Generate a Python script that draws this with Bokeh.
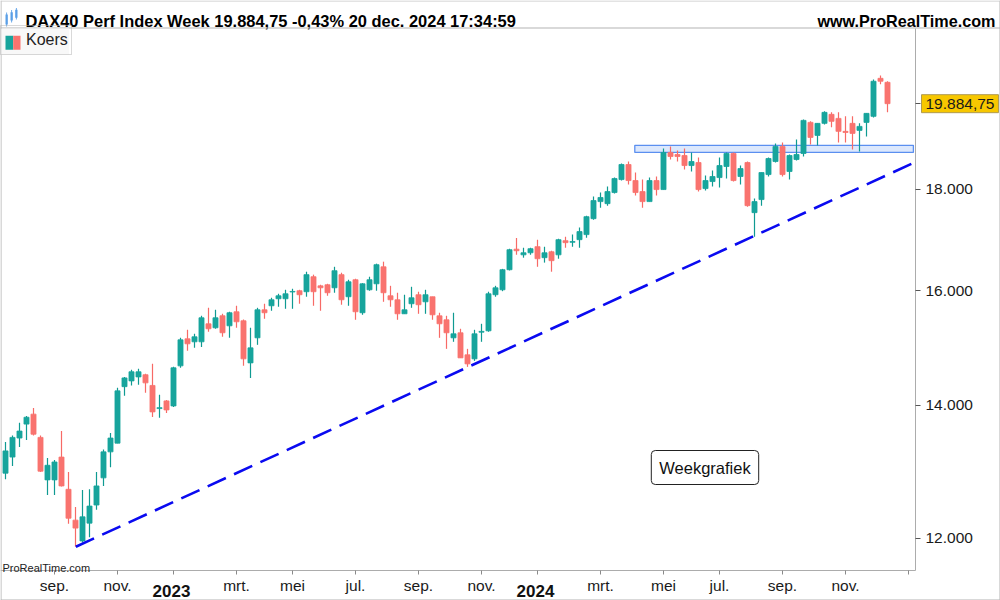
import math
import pandas as pd
from bokeh.plotting import figure
from bokeh.models import (Range1d, FixedTicker, Label, BoxAnnotation, Legend,
                          LegendItem, ColumnDataSource, LogAxis, LinearAxis, Grid)
from bokeh.embed import file_html
from bokeh.resources import INLINE

# ---------------- data (weekly DAX40 candles, week starting Monday) ----------------
first_week = "2022-07-18"

opens = [
    12940, 13185, 13480, 13700, 13860, 13490, 12840, 12840, 13185, 12700,
    12253, 11960, 12210, 12470, 12870, 13265, 13400, 14310, 14406, 14473,
    14510, 14330, 13950, 14075, 13993, 14660, 15129, 15076, 15076, 15395,
    15324, 15540, 15359, 15612, 15449, 14711, 15146, 15648, 15721, 15850,
    15850, 15975, 15998, 15980, 16261, 16090, 16110, 16053, 16300, 15887,
    16204, 15594, 16016, 16128, 16450, 15905, 15831, 15575, 15758, 15924,
    15794, 15887, 15539, 15467, 15146, 15235, 14850, 14780, 15245, 15270,
    15924, 16016, 16394, 16790, 16680, 16720, 16840, 16625, 16740, 16680,
    16957, 16925, 16977, 17077, 17397, 17745, 17703, 17933, 18206, 18527,
    18185, 17953, 17745, 18185, 17995, 18788, 18744, 18722, 18505, 18570,
    18016, 18164, 18248, 18484, 18766, 18270, 18570, 17519, 17787, 18312,
    18592, 18920, 18377, 18635, 18766, 19457, 19165, 19435, 19640, 19548,
    19255, 19435, 19277, 19457, 19594, 20480, 20385]

highs = [
    13420, 13520, 13720, 13830, 13960, 13520, 13170, 13140, 13590, 12960,
    12440, 12690, 12700, 12960, 13300, 13560, 14290, 14473, 14592, 14610,
    14525, 14695, 14175, 14090, 14645, 15146, 15288, 15217, 15540, 15684,
    15648, 15575, 15612, 15721, 15470, 15324, 15684, 15758, 15868, 15942,
    16016, 16035, 16016, 16356, 16300, 16110, 16128, 16450, 16337, 16204,
    16223, 16140, 16261, 16510, 16548, 16090, 15961, 15924, 16072, 15980,
    16016, 15887, 15594, 15539, 15594, 15306, 14953, 15288, 15395, 15980,
    16090, 16410, 16800, 17010, 16820, 16820, 16977, 16840, 16760, 16997,
    17037, 17077, 17217, 17457, 17850, 17933, 18058, 18248, 18549, 18592,
    18355, 18206, 18248, 18270, 18875, 18920, 18832, 18875, 18788, 18678,
    18290, 18398, 18678, 18788, 18788, 18505, 18592, 17808, 18355, 18678,
    18987, 19010, 18744, 19075, 19525, 19480, 19435, 19708, 19685, 19685,
    19594, 19594, 19435, 19662, 20450, 20550, 20410]

lows = [
    12850, 13050, 13340, 13450, 13520, 12960, 12615, 12615, 12740, 12200,
    11880, 11940, 12010, 12400, 12750, 13030, 13400, 14160, 14330, 14340,
    14210, 13815, 13800, 13880, 13977, 14627, 14919, 14970, 14987, 15253,
    15306, 15164, 15146, 15324, 14660, 14456, 15023, 15485, 15630, 15703,
    15666, 15666, 15758, 15887, 15721, 15630, 15905, 15961, 15740, 15721,
    15467, 15557, 15998, 15998, 15794, 15703, 15467, 15575, 15684, 15575,
    15575, 15467, 15146, 14953, 15076, 14797, 14643, 14745, 15076, 15253,
    15887, 15990, 16380, 16680, 16625, 16680, 16450, 16530, 16356, 16605,
    16820, 16840, 16820, 17017, 17377, 17620, 17662, 17912, 18185, 18100,
    17870, 17620, 17745, 17870, 17995, 18635, 18592, 18419, 18377, 17953,
    17975, 18058, 18037, 18227, 18164, 18100, 17640, 17037, 17662, 18270,
    18570, 18270, 18206, 18614, 18700, 18964, 18943, 19412, 19345, 19010,
    19010, 18853, 18810, 19142, 19570, 20340, 19685]

closes = [
    13280, 13490, 13590, 13810, 13540, 12970, 13060, 13110, 12750, 12280,
    12140, 12300, 12455, 12750, 13265, 13480, 14240, 14456, 14560, 14560,
    14373, 13896, 13965, 13928, 14627, 15111, 15041, 15164, 15503, 15306,
    15503, 15235, 15594, 15431, 14780, 14970, 15648, 15594, 15831, 15905,
    15942, 15985, 15924, 16300, 15980, 16053, 15961, 16375, 15831, 16166,
    15612, 16128, 16204, 16490, 15961, 15831, 15575, 15648, 15868, 15740,
    15924, 15557, 15395, 15235, 15217, 14797, 14694, 15217, 15260, 15942,
    16053, 16394, 16780, 16760, 16720, 16800, 16605, 16720, 16567, 16977,
    16918, 16940, 17137, 17437, 17766, 17830, 17953, 18227, 18527, 18185,
    17933, 17745, 18185, 17995, 18788, 18700, 18700, 18505, 18592, 17995,
    18185, 18270, 18505, 18766, 18185, 18440, 17662, 17745, 18355, 18657,
    18920, 18312, 18722, 18744, 19502, 19120, 19435, 19685, 19480, 19255,
    19230, 19210, 19367, 19662, 20410, 20410, 19884.75]

last_price = 19884.75
last_price_text = "19.884,75"

# resistance zone (bar-index span and price span)
zone_x = [89.9, 129.7]
zone_y = [18790, 18945]

# dashed support trend line (bar index, price)
trend_x = [10.05, 129.7]
trend_y = [11880, 18560]

y_ticks = [12000, 14000, 16000, 18000]
y_tick_labels = ["12.000", "14.000", "16.000", "18.000"]

month_names = {1: None, 3: "mrt.", 5: "mei", 7: "jul.", 9: "sep.", 11: "nov."}

title_text = "DAX40 Perf Index Week 19.884,75 -0,43% 20 dec. 2024 17:34:59"
site_text = "www.ProRealTime.com"
legend_text = "Koers"
note_text = "Weekgrafiek"
watermark_text = "ProRealTime.com"

# ---------------- layout constants (canvas pixels) ----------------
FONT = "Liberation Sans"
UP = "#17a49c"
UP_W = "#0f9a92"
DOWN = "#f9736f"
DOWN_W = "#f76a66"
GRAY = "#acacac"
W, H = 1000, 600
CH_T, CH_B, CH_R = 28, 570, 915     # price-chart area edges
SPACING = 7.0                        # px per weekly bar
X0 = 5.0                             # canvas x of bar 0
V_BOT, Y_BOT = 11556, 570            # price shown at the chart bottom edge
V_TOP, Y_TOP = 21676, 29             # price shown near the chart top edge
LOGC = math.log(V_TOP / V_BOT) / (Y_BOT - Y_TOP)


def v_at(y):          # price at canvas row y (log scale)
    return V_BOT * math.exp((Y_BOT - y) * LOGC)


def i_at(x):          # bar index at canvas column x
    return (x - X0) / SPACING


def fy(y):            # canvas row -> screen units measured from the bottom
    return H - y


n = len(opens)
dates = pd.date_range(first_week, periods=n + 4, freq="W-MON")

p = figure(width=W, height=H, output_backend="svg", toolbar_location=None,
           title=None, y_axis_type="log", x_axis_location=None, y_axis_location=None,
           x_range=Range1d(i_at(0), i_at(W)), y_range=Range1d(v_at(H), v_at(0)),
           min_border=0, min_border_left=0, min_border_right=0, min_border_top=0,
           min_border_bottom=0, background_fill_color="white", border_fill_color="white")
p.outline_line_color = None
for r in list(p.center):
    if isinstance(r, Grid):
        r.visible = False

# resistance zone
p.quad(left=[zone_x[0]], right=[zone_x[1]], bottom=[zone_y[0]], top=[zone_y[1]],
       fill_color="#dce8fd", line_color="#5b8ff0", line_width=1.3)

# candles
idx = list(range(n))
is_up = [closes[i] >= opens[i] for i in idx]


def make_src(flag):
    sel = [i for i in idx if is_up[i] == flag]
    return ColumnDataSource(dict(
        x=sel,
        high=[highs[i] for i in sel],
        low=[lows[i] for i in sel],
        top=[max(opens[i], closes[i]) for i in sel],
        bot=[min(opens[i], closes[i]) for i in sel],
    ))


src_up = make_src(True)
src_dn = make_src(False)
p.segment(x0="x", y0="low", x1="x", y1="high", source=src_up, line_color=UP_W, line_width=1.2)
p.segment(x0="x", y0="low", x1="x", y1="high", source=src_dn, line_color=DOWN_W, line_width=1.2)
p.vbar(x="x", width=0.72, bottom="bot", top="top", source=src_up,
       fill_color=UP, line_color=UP, line_width=0.8)
p.vbar(x="x", width=0.72, bottom="bot", top="top", source=src_dn,
       fill_color=DOWN, line_color=DOWN, line_width=0.8)

# trend line
p.line(trend_x, trend_y, line_color="#0a0af0", line_width=2.6, line_dash="20 9")

# ---------------- axes (fixed at the chart-area edges) ----------------
tick_pos, tick_lab, year_ticks = [], [], []
for i in range(1, len(dates)):
    d = dates[i]
    if d.month in month_names and dates[i - 1].month != d.month:
        tick_pos.append(i)
        if d.month == 1:
            tick_lab.append("")
            if i < n:
                year_ticks.append((i, str(d.year)))
        else:
            tick_lab.append(month_names[d.month] if i < n else "")

xa = LinearAxis(fixed_location=v_at(CH_B), bounds=(i_at(0), i_at(CH_R)))
xa.ticker = FixedTicker(ticks=tick_pos, minor_ticks=[])
xa.major_label_overrides = {t: l for t, l in zip(tick_pos, tick_lab)}
xa.axis_line_color = GRAY
xa.major_tick_line_color = "#8a8a8a"
xa.major_tick_out = 4
xa.major_tick_in = 0
xa.minor_tick_out = 0
xa.minor_tick_in = 0
xa.major_label_standoff = 2
xa.major_label_text_font = FONT
xa.major_label_text_font_size = "15.5px"
xa.major_label_text_color = "#1a1a1a"
p.add_layout(xa, "below")

ya = LogAxis(fixed_location=i_at(CH_R), bounds=(v_at(CH_B), v_at(CH_T)))
ya.ticker = FixedTicker(ticks=y_ticks + [last_price], minor_ticks=[])
overrides = {t: l for t, l in zip(y_ticks, y_tick_labels)}
overrides[last_price] = ""
ya.major_label_overrides = overrides
ya.axis_line_color = GRAY
ya.major_tick_line_color = "#555555"
ya.major_tick_out = 5
ya.major_tick_in = 0
ya.minor_tick_out = 0
ya.minor_tick_in = 0
ya.major_label_standoff = 5
ya.major_label_text_font = FONT
ya.major_label_text_font_size = "15.5px"
ya.major_label_text_color = "#1a1a1a"
p.add_layout(ya, "right")

for t, yr in year_ticks:
    p.add_layout(Label(x=t, y=fy(590), x_units="data", y_units="screen", x_offset=-2,
                       text=yr, text_align="center", text_baseline="alphabetic",
                       text_font=FONT, text_font_size="17px", text_font_style="bold",
                       text_color="#111111"))


# ---------------- decorations in screen units ----------------
def sbox(l, r, t, b, color):
    p.add_layout(BoxAnnotation(left=l, right=r, top=fy(t), bottom=fy(b),
                               left_units="screen", right_units="screen", top_units="screen",
                               bottom_units="screen", fill_color=color, fill_alpha=1,
                               line_color=None, level="overlay"))


sbox(0, W, 27, 28, "#b4b4b4")        # header separator
sbox(0, 1, 0, H, "#b4b4b4")          # outer border left
sbox(W - 1, W, 0, H, "#b4b4b4")      # outer border right
sbox(0, W, H - 1, H, "#b4b4b4")      # outer border bottom
sbox(0, W, 0, 1, "#c8c8c8")          # outer border top

# small header icon (three mini candles)
ICON = "#5b9fe6"
sbox(5, 7.3, 14, 24, ICON); sbox(5.7, 6.6, 12, 26, ICON)
sbox(10, 12.3, 11.7, 20, ICON); sbox(10.7, 11.6, 9.5, 22, ICON)
sbox(14.7, 17, 9.3, 17.3, ICON); sbox(15.4, 16.3, 7.5, 19, ICON)

# legend background + two-colour icon
sbox(1, 68.5, 28, 54.5, "#f8f8f8")
sbox(5, 12.7, 35.3, 49.3, UP)
sbox(12.7, 20, 35.3, 49.3, DOWN)

dummy = p.vbar(x=[0], width=0.1, bottom=[12000], top=[12000], fill_alpha=0, line_alpha=0)
legend = Legend(items=[LegendItem(label=legend_text, renderers=[dummy])],
                location=(0, fy(55)), margin=0, padding=3, spacing=0,
                glyph_width=16, glyph_height=22, label_height=22, label_standoff=6,
                label_text_font=FONT, label_text_font_size="16px", label_text_color="#222222",
                border_line_color="#b4b4b4", border_line_width=1,
                background_fill_alpha=0)
p.add_layout(legend)

# header texts
p.add_layout(Label(x=25, y=fy(20.7), x_units="screen", y_units="screen", text=title_text,
                   text_font=FONT, text_font_size="16.45px", text_font_style="bold",
                   text_baseline="alphabetic", text_color="#000000"))
p.add_layout(Label(x=995, y=fy(20.7), x_units="screen", y_units="screen", text=site_text,
                   text_font=FONT, text_font_size="16.2px", text_font_style="bold",
                   text_align="right", text_baseline="alphabetic", text_color="#000000"))

# last price tag on the price axis
p.add_layout(Label(x=921, y=last_price, x_units="screen", y_units="data", text=last_price_text,
                   text_font=FONT, text_font_size="15.5px", text_align="left",
                   text_baseline="middle", text_color="#1a1a1a",
                   background_fill_color="#f7c700", background_fill_alpha=1,
                   border_line_color="#b09a50", padding=4))

# chart note
p.add_layout(Label(x=704.5, y=fy(467), x_units="screen", y_units="screen", text=note_text,
                   text_font=FONT, text_font_size="16.5px", text_align="center",
                   text_baseline="middle", text_color="#111111",
                   background_fill_color="white", background_fill_alpha=1,
                   border_line_color="#222222", border_line_width=1, padding=8,
                   border_radius=4))

# watermark
p.add_layout(Label(x=2, y=fy(567.5), x_units="screen", y_units="screen", text=watermark_text,
                   text_font=FONT, text_font_size="11px", text_baseline="alphabetic",
                   text_color="#222222"))

open("out.html", "w").write(file_html(p, INLINE))
